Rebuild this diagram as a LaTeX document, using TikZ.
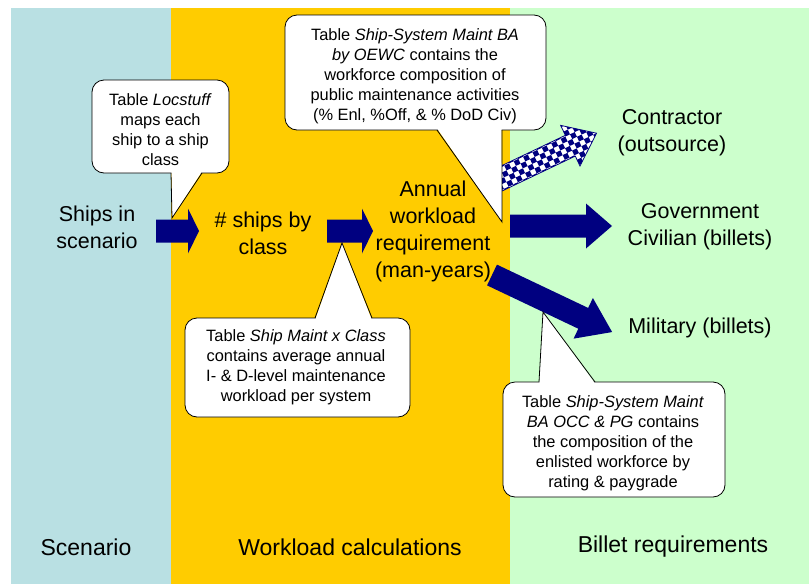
\documentclass[tikz,border=0pt]{standalone}
\usepackage{fontspec}
\setmainfont{Liberation Sans}

\definecolor{scenblue}{HTML}{B9E0E3}
\definecolor{workgold}{HTML}{FFCC00}
\definecolor{billgreen}{HTML}{CCFFCC}
\definecolor{arrownavy}{HTML}{000080}

\tikzset{
  maintext/.style={align=center, inner sep=0pt, font=\fontsize{21.5}{27}\selectfont},
  lanetext/.style={inner sep=0pt, font=\fontsize{23}{28}\selectfont},
  bubbletext/.style={align=center, inner sep=0pt, font=\fontsize{16.4}{20}\selectfont},
  bubble/.style={draw=black, fill=white, line width=0.8pt, rounded corners=12pt},
}

% block arrow: [style]{x}{y}{angle}{length}{head length}
\newcommand{\blockarrow}[6][fill=arrownavy]{%
  \path[#1, shift={(#2,#3)}, rotate=#4] (0,-11.5) -- ({#5-#6},-11.5) -- ({#5-#6},-22.5)
    -- (#5,0) -- ({#5-#6},22.5) -- ({#5-#6},11.5) -- (0,11.5) -- cycle;}

\begin{document}
\begin{tikzpicture}[x=1pt, y=-1pt]
  \useasboundingbox (0,0) rectangle (809,584);
  % lanes
  \fill[scenblue] (11,8) rectangle (171,584);
  \fill[workgold] (171,8) rectangle (510,584);
  \fill[billgreen] (510,8) rectangle (809,584);

  % arrows
  \blockarrow{156}{231}{0}{43}{11}
  \blockarrow{327}{231}{0}{46}{11}
  \blockarrow{510}{226}{0}{102}{26}
  \blockarrow{492}{275}{-25.4}{133}{32}
  \begin{scope}[shift={(490,184)}, rotate=25.5]
    \begin{scope}
      \path[clip] (0,-11.5) -- (89,-11.5) -- (89,-22.5) -- (118,0) -- (89,22.5) -- (89,11.5) -- (0,11.5) -- cycle;
      \fill[white] (-2,-24) rectangle (120,24);
      \foreach \i in {0,10.4,...,120}
        \foreach \j in {-31.2,-20.8,...,20} {
          \fill[arrownavy] (\i,\j) rectangle ++(5.2,5.2);
          \fill[arrownavy] (\i+5.2,\j+5.2) rectangle ++(5.2,5.2);
        }
    \end{scope}
    \draw[arrownavy, line width=0.8pt] (0,-11.5) -- (89,-11.5) -- (89,-22.5) -- (118,0) -- (89,22.5) -- (89,11.5) -- (0,11.5) -- cycle;
  \end{scope}

  % callouts
  \draw[bubble] (92,80) rectangle (229,173);
  \fill[white] (171.4,172.2) -- (201.4,172.2) -- (172,218) -- cycle;
  \draw[line width=0.8pt] (171,173) -- (172,218) -- (202,173);
  \node[bubbletext] (locstuff) at (160.5,130) {Table \textit{Locstuff}\\maps each\\ship to a ship\\class};

  \draw[bubble] (285,15) rectangle (546,130);
  \fill[white] (437.6,129.2) -- (501.6,129.2) -- (502,222) -- cycle;
  \draw[line width=0.8pt] (437,130) -- (502,222) -- (502,130);
  \node[bubbletext] (oewc) at (415,76) {Table \textit{Ship-System Maint BA}\\\textit{by OEWC} contains the\\workforce composition of\\public maintenance activities\\(\% Enl, \%Off, \& \% DoD Civ)};

  \draw[bubble] (185,318) rectangle (410,417);
  \fill[white] (315.6,318.8) -- (371.4,318.8) -- (342,243) -- cycle;
  \draw[line width=0.8pt] (315,318) -- (342,243) -- (372,318);
  \node[bubbletext] (shipmaint) at (296,367) {Table \textit{Ship Maint x Class}\\contains average annual\\I- \& D-level maintenance\\workload per system};

  \draw[bubble] (503,382) rectangle (725,497);
  \fill[white] (539.4,382.8) -- (594.4,382.8) -- (543,312) -- cycle;
  \draw[line width=0.8pt] (539,382) -- (543,312) -- (595,382);
  \node[bubbletext] (occpg) at (613,443) {Table \textit{Ship-System Maint}\\\textit{BA OCC \& PG} contains\\the composition of the\\enlisted workforce by\\rating \& paygrade};

  % flow texts
  \node[maintext] (ships) at (97,227) {Ships in\\scenario};
  \node[maintext] (byclass) at (263,233) {\# ships by\\class};
  \node[maintext] (annual) at (433,231) {Annual\\workload\\requirement\\(man-years)};
  \node[maintext] (contractor) at (672,133) {Contractor\\(outsource)};
  \node[maintext] (govciv) at (700,227) {Government\\Civilian (billets)};
  \node[maintext] (military) at (700,328) {Military (billets)};

  % lane titles
  \node[lanetext] (scenario) at (86,547) {Scenario};
  \node[lanetext] (workload) at (350,547) {Workload calculations};
  \node[lanetext] (billets) at (673,547) {Billet requirements};
\end{tikzpicture}
\end{document}
